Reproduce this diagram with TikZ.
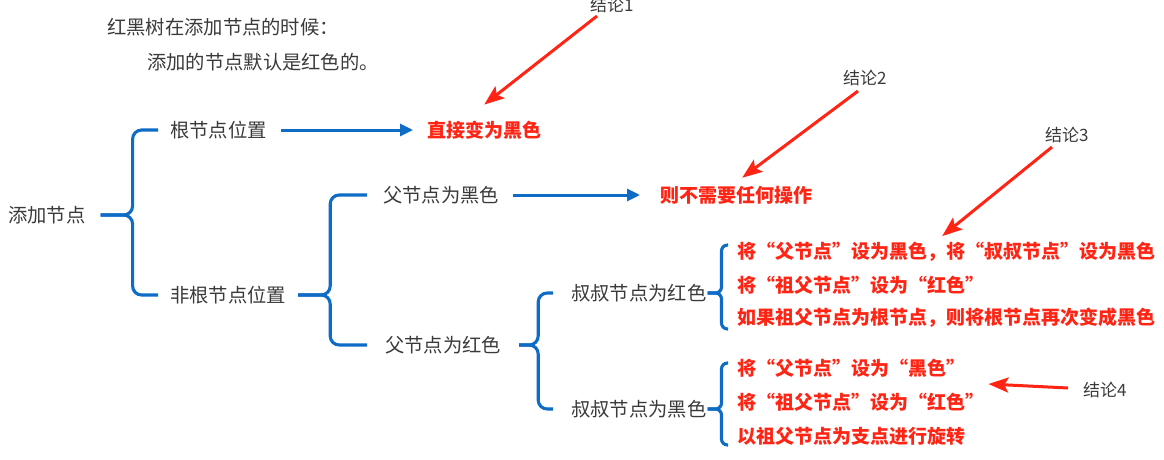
\documentclass[tikz,border=0pt]{standalone}
\usepackage{fontspec}
\setmainfont{Noto Sans CJK SC}
\usetikzlibrary{arrows.meta,calc}
\definecolor{txtgray}{HTML}{3A3A3A}
\definecolor{bracebl}{HTML}{0F6CC6}
\definecolor{notered}{HTML}{FF2414}

\begin{document}
\begin{tikzpicture}[x=1pt,y=-1pt,
  every node/.style={inner sep=0pt,anchor=west,text=txtgray,
    font=\fontsize{19.3}{21}\selectfont},
  result/.style={text=notered,font=\fontsize{19}{21}\selectfont\bfseries},
  tag/.style={font=\fontsize{17}{18}\selectfont},
  brace/.style={bracebl,line width=3.1pt,rounded corners=9pt},
  smallbrace/.style={brace,rounded corners=6pt},
  bluearrow/.style={bracebl,line width=3pt,-{Triangle[length=13pt,width=12pt]}},
  redarrow/.style={notered,line width=3pt,-{Stealth[length=20pt,width=15pt,inset=4pt]}}]
\useasboundingbox (0,0) rectangle (1164,459);

% heading
\node (head1) at (107,27) {红黑树在添加节点的时候：};
\node (head2) at (147,62) {添加的节点默认是红色的。};

% cases
\node (add) at (8,215) {添加节点};
\node (root) at (170,130) {根节点位置};
\node (nonroot) at (170,295) {非根节点位置};
\node (pblack) at (383,195) {父节点为黑色};
\node (pred) at (385,345) {父节点为红色};
\node (ured) at (571,293) {叔叔节点为红色};
\node (ublack) at (571,409) {叔叔节点为黑色};

% results
\node[result] (res1) at (427,130) {直接变为黑色};
\node[result] (res2) at (660,195) {则不需要任何操作};
\node[result] (res3a) at (737,252) {将“父节点”设为黑色，将“叔叔节点”设为黑色};
\node[result] (res3b) at (737,285) {将“祖父节点”设为“红色”};
\node[result] (res3c) at (737,318) {如果祖父节点为根节点，则将根节点再次变成黑色};
\node[result] (res4a) at (737,368) {将“父节点”设为“黑色”};
\node[result] (res4b) at (737,402) {将“祖父节点”设为“红色”};
\node[result] (res4c) at (737,436) {以祖父节点为支点进行旋转};

% braces
\coordinate (t1) at ([xshift=15pt]add.east);
\draw[brace] ([xshift=-12pt]root.west) -| ([xshift=32pt]t1) -- (t1);
\draw[brace] ([xshift=-12pt]nonroot.west) -| ([xshift=32pt]t1) -- (t1);
\coordinate (t2) at ([xshift=12pt]nonroot.east);
\draw[brace] ([xshift=-16pt]pblack.west) -| ([xshift=32pt]t2) -- (t2);
\draw[brace] ([xshift=-18pt]pred.west) -| ([xshift=32pt]t2) -- (t2);
\coordinate (t3) at ([xshift=18pt]pred.east);
\draw[brace] ([xshift=-18pt]ured.west) -| ([xshift=19pt]t3) -- (t3);
\draw[brace] ([xshift=-18pt]ublack.west) -| ([xshift=19pt]t3) -- (t3);
\coordinate (t4) at ([xshift=1pt]ured.east);
\draw[smallbrace] ([xshift=-9pt,yshift=7pt]res3a.west) -| ([xshift=14pt]t4) -- (t4);
\draw[smallbrace] ([xshift=-9pt,yshift=-11pt]res3c.west) -| ([xshift=14pt]t4) -- (t4);
\coordinate (t5) at ([xshift=1pt]ublack.east);
\draw[smallbrace] ([xshift=-9pt,yshift=5pt]res4a.west) -| ([xshift=14pt]t5) -- (t5);
\draw[smallbrace] ([xshift=-9pt,yshift=-9pt]res4c.west) -| ([xshift=14pt]t5) -- (t5);

% blue arrows
\draw[bluearrow] ([xshift=14pt]root.east) -- ([xshift=-14pt]res1.west);
\draw[bluearrow] ([xshift=14pt]pblack.east) -- ([xshift=-20pt]res2.west);

% conclusions
\node[tag] (c1) at (590,5) {结论1};
\node[tag] (c2) at (843,78) {结论2};
\node[tag] (c3) at (1045,135) {结论3};
\node[tag] (c4) at (1083,390) {结论4};
\draw[redarrow] ([xshift=7pt,yshift=-3pt]c1.south west) -- ([yshift=16pt]res1.north);
\draw[redarrow] ([xshift=15pt,yshift=-5pt]c2.south west) -- ([xshift=6pt,yshift=8pt]res2.north);
\draw[redarrow] ([xshift=7pt,yshift=-4pt]c3.south west) -- ([xshift=-4pt,yshift=6pt]res3a.north);
\draw[redarrow] ([xshift=-15pt,yshift=2pt]c4.west) -- ([xshift=4pt,yshift=18pt]res4b.east);
\end{tikzpicture}
\end{document}
